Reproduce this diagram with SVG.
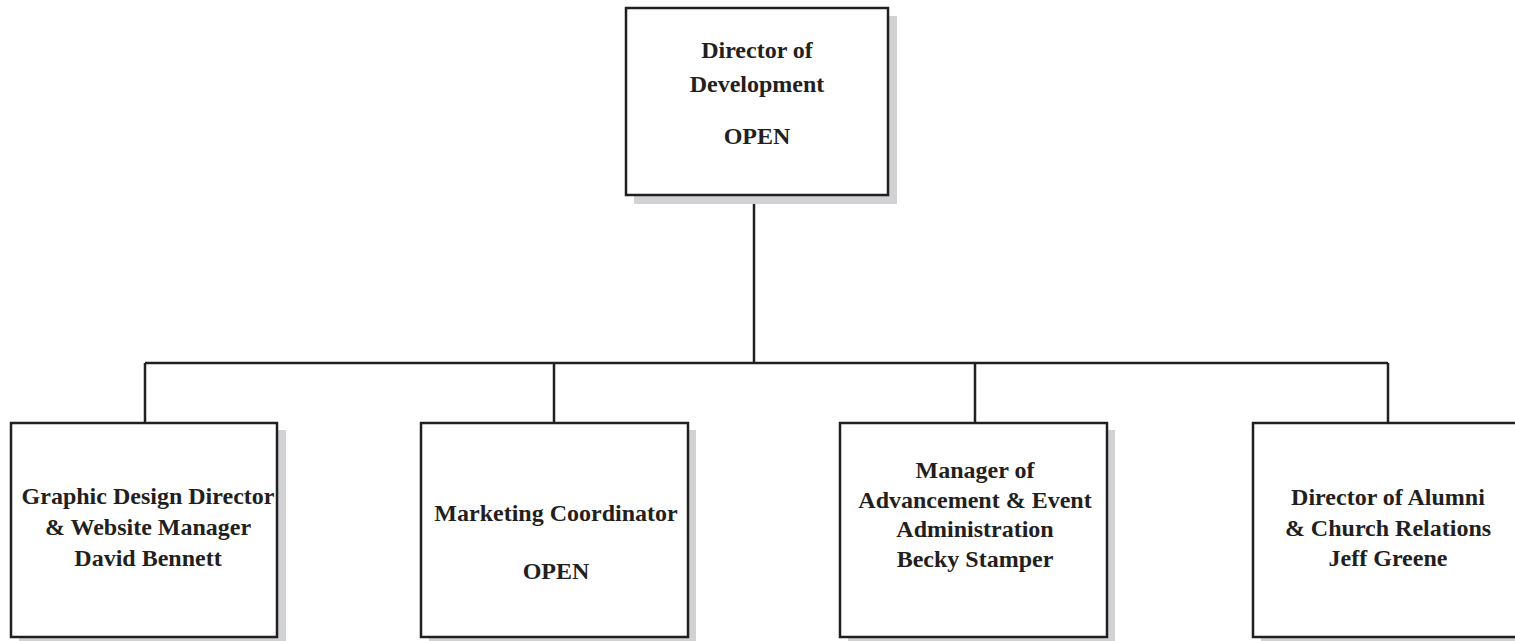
<svg xmlns="http://www.w3.org/2000/svg" width="1515" height="641" viewBox="0 0 1515 641">
<style>
.shadow{fill:#d1d2d4;stroke:none}
.box{fill:#ffffff;stroke:#231f20;stroke-width:2.5}
.conn{fill:none;stroke:#231f20;stroke-width:2.5}
text{font-family:"Liberation Serif","Times New Roman",serif;font-weight:bold;font-size:24px;fill:#231f20;text-anchor:middle}
</style>
<rect width="1515" height="641" fill="#ffffff"/>
<g id="connectors">
<path class="conn" d="M754 195 V363 M145 363 H1388 M145 363 V423 M554 363 V423 M975 363 V423 M1388 363 V423"/>
</g>
<g id="director">
<rect class="shadow" x="634" y="16" width="263" height="188"/>
<rect class="box" x="626" y="8" width="262" height="187"/>
<text x="757" y="58">Director of</text>
<text x="757" y="92">Development</text>
<text x="757" y="144">OPEN</text>
</g>
<g id="graphic">
<rect class="shadow" x="19" y="430" width="267" height="215"/>
<rect class="box" x="11" y="423" width="266" height="214"/>
<text x="148" y="504">Graphic Design Director</text>
<text x="148" y="535">&amp; Website Manager</text>
<text x="148" y="566">David Bennett</text>
</g>
<g id="marketing">
<rect class="shadow" x="429" y="430" width="267" height="215"/>
<rect class="box" x="421" y="423" width="267" height="214"/>
<text x="556" y="521">Marketing Coordinator</text>
<text x="556" y="579">OPEN</text>
</g>
<g id="advancement">
<rect class="shadow" x="848" y="430" width="267" height="215"/>
<rect class="box" x="840" y="423" width="267" height="214"/>
<text x="975" y="478">Manager of</text>
<text x="975" y="508">Advancement &amp; Event</text>
<text x="975" y="537">Administration</text>
<text x="975" y="567">Becky Stamper</text>
</g>
<g id="alumni">
<rect class="shadow" x="1261" y="430" width="267" height="215"/>
<rect class="box" x="1253" y="423" width="267" height="214"/>
<text x="1388" y="505">Director of Alumni</text>
<text x="1388" y="536">&amp; Church Relations</text>
<text x="1388" y="566">Jeff Greene</text>
</g>
</svg>
